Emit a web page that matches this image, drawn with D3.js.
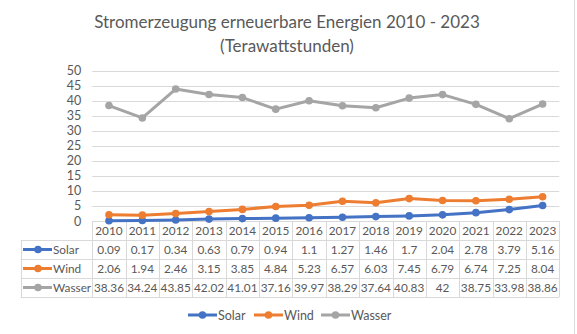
<!DOCTYPE html>
<html>
<head>
<meta charset="utf-8">
<script src="https://cdn.jsdelivr.net/npm/d3@7"></script>
<style>
  html, body { margin: 0; padding: 0; background: #fff; }
  svg { display: block; }
  text { font-family: Lato, "Open Sans", "Liberation Sans", sans-serif; fill: #595959; }
</style>
</head>
<body>
<svg id="chart" width="577" height="334"></svg>
<script>
const years = ["2010","2011","2012","2013","2014","2015","2016","2017","2018","2019","2020","2021","2022","2023"];
const solar = [0.09,0.17,0.34,0.63,0.79,0.94,1.1,1.27,1.46,1.7,2.04,2.78,3.79,5.16];
const wind = [2.06,1.94,2.46,3.15,3.85,4.84,5.23,6.57,6.03,7.45,6.79,6.74,7.25,8.04];
const wasser = [38.36,34.24,43.85,42.02,41.01,37.16,39.97,38.29,37.64,40.83,42,38.75,33.98,38.86];
const seriesNames = ["Solar","Wind","Wasser"];
const seriesColors = ["#4472C4","#ED7D31","#A5A5A5"];
const yTicks = [0,5,10,15,20,25,30,35,40,45,50];
const titleLines = ["Stromerzeugung erneuerbare Energien 2010 - 2023","(Terawattstunden)"];

const series = [solar, wind, wasser].map((vals, i) => ({
  name: seriesNames[i], color: seriesColors[i],
  values: vals.map((v, j) => ({year: years[j], value: v}))
}));

const svg = d3.select("#chart");
const plotL = 92.3, plotR = 559.3, plotT = 70.5, plotB = 221;
const tableL = 20.7;
const rowH = 19;
const gridColor = "#D9D9D9";
const fs = "11.8px";

const x = d3.scaleBand().domain(years).range([plotL, plotR]).padding(0);
const y = d3.scaleLinear().domain([0, 50]).range([plotB, plotT]);

// outer border (right)
svg.append("line").attr("x1", 574.5).attr("x2", 574.5).attr("y1", 0).attr("y2", 334)
  .attr("stroke", gridColor).attr("stroke-width", 1);

// title
svg.append("g").selectAll("text").data(titleLines).join("text")
  .attr("x", 287).attr("y", (d, i) => 28 + i * 24)
  .attr("text-anchor", "middle")
  .style("font-size", "17px")
  .text(d => d);

// gridlines
svg.append("g").selectAll("line").data(yTicks.filter(t => t > 0)).join("line")
  .attr("x1", plotL).attr("x2", plotR)
  .attr("y1", d => Math.round(y(d)) + 0.5).attr("y2", d => Math.round(y(d)) + 0.5)
  .attr("stroke", gridColor).attr("stroke-width", 1);

// y axis labels
const yAxis = d3.axisLeft(y).tickValues(yTicks).tickSize(0).tickPadding(0);
const yg = svg.append("g").attr("transform", `translate(${plotL - 11},0)`).call(yAxis);
yg.select(".domain").remove();
yg.selectAll("text").style("font-size", "12.5px").attr("fill", "#595959")
  .style("font-family", "Lato, 'Open Sans', sans-serif");

// table
const tableB = plotB + 4 * rowH;
const tg = svg.append("g");
tg.append("line").attr("x1", plotL).attr("x2", plotR).attr("y1", plotB + 0.5).attr("y2", plotB + 0.5)
  .attr("stroke", gridColor);
tg.selectAll("line.h").data([1, 2, 3, 4]).join("line").attr("class", "h")
  .attr("x1", tableL).attr("x2", plotR)
  .attr("y1", d => Math.round(plotB + d * rowH) + 0.5).attr("y2", d => Math.round(plotB + d * rowH) + 0.5)
  .attr("stroke", gridColor);
const bounds = years.map(yy => x(yy)).concat([plotR]);
tg.selectAll("line.v").data(bounds).join("line").attr("class", "v")
  .attr("x1", d => Math.round(d) + 0.5).attr("x2", d => Math.round(d) + 0.5)
  .attr("y1", plotB).attr("y2", tableB)
  .attr("stroke", gridColor);
tg.append("line").attr("x1", Math.round(tableL) + 0.5).attr("x2", Math.round(tableL) + 0.5)
  .attr("y1", plotB + rowH).attr("y2", tableB).attr("stroke", gridColor);

// year row
tg.selectAll("text.yr").data(years).join("text").attr("class", "yr")
  .attr("x", d => x(d) + x.bandwidth() / 2).attr("y", plotB + 14)
  .attr("text-anchor", "middle").style("font-size", fs).text(d => d);

// value rows
series.forEach((s, i) => {
  const ty = plotB + (i + 1) * rowH;
  tg.selectAll(null).data(s.values).join("text")
    .attr("x", d => x(d.year) + x.bandwidth() / 2).attr("y", ty + 14)
    .attr("text-anchor", "middle").style("font-size", fs).text(d => d.value);
  const cy = ty + rowH / 2;
  tg.append("line").attr("x1", 23).attr("x2", 52).attr("y1", cy).attr("y2", cy)
    .attr("stroke", s.color).attr("stroke-width", 3);
  tg.append("circle").attr("cx", 38).attr("cy", cy).attr("r", 3.8).attr("fill", s.color);
  tg.append("text").attr("x", 53).attr("y", ty + 14).style("font-size", fs).text(s.name);
});

// lines
const line = d3.line().x(d => x(d.year) + x.bandwidth() / 2).y(d => y(d.value));
const lg = svg.append("g");
series.forEach(s => {
  lg.append("path").datum(s.values).attr("d", line)
    .attr("fill", "none").attr("stroke", s.color).attr("stroke-width", 3)
    .attr("stroke-linejoin", "round");
});
series.forEach(s => {
  lg.selectAll(null).data(s.values).join("circle")
    .attr("cx", d => x(d.year) + x.bandwidth() / 2).attr("cy", d => y(d.value))
    .attr("r", 3.8).attr("fill", s.color);
});

// bottom legend
const legX = [188, 254, 321];
const legY = 315;
const leg = svg.append("g");
series.forEach((s, i) => {
  leg.append("line").attr("x1", legX[i]).attr("x2", legX[i] + 29).attr("y1", legY).attr("y2", legY)
    .attr("stroke", s.color).attr("stroke-width", 3);
  leg.append("circle").attr("cx", legX[i] + 14.5).attr("cy", legY).attr("r", 3.8).attr("fill", s.color);
  leg.append("text").attr("x", legX[i] + 30).attr("y", legY + 4.5).style("font-size", "12.5px").text(s.name);
});
</script>
</body>
</html>
